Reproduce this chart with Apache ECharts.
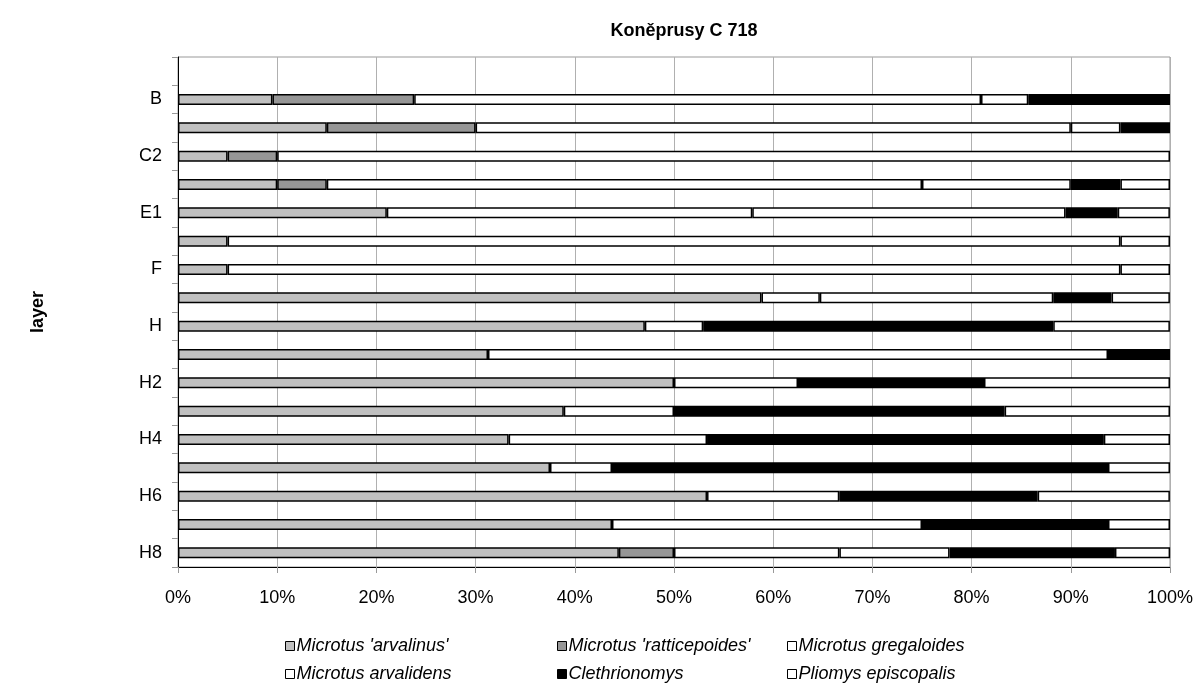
<!DOCTYPE html>
<html>
<head>
<meta charset="utf-8">
<title>Koněprusy C 718</title>
<script src="https://cdn.jsdelivr.net/npm/echarts@6/dist/echarts.min.js"></script>
<style>
  html, body { margin: 0; padding: 0; background: #fff; }
  #echarts { width: 1199px; height: 692px; }
</style>
</head>
<body>
<div id="echarts"></div>
<script>
// layers, top to bottom (first slot is empty in the original chart)
const layers = ['', 'B', 'C1', 'C2', 'D', 'E1', 'E2', 'F', 'G', 'H', 'H1', 'H2', 'H3', 'H4', 'H5', 'H6', 'H7', 'H8'];

// shares in % per layer, same order as layers
const arvalinus     = [null, 9.52, 15, 5, 10, 21.05, 5, 5, 58.82, 47.06, 31.25, 50, 38.89, 33.33, 37.5, 53.33, 43.75, 44.44];
const ratticepoides = [null, 14.29, 15, 5, 5, 0, 0, 0, 0, 0, 0, 0, 0, 0, 0, 0, 0, 5.56];
const gregaloides   = [null, 57.14, 60, 90, 60, 36.84, 90, 90, 5.88, 5.88, 62.5, 12.5, 11.11, 20, 6.25, 13.33, 31.25, 16.67];
const arvalidens    = [null, 4.76, 5, 0, 15, 31.58, 0, 0, 23.53, 0, 0, 0, 0, 0, 0, 0, 0, 11.11];
const clethrionomys = [null, 14.29, 5, 0, 5, 5.26, 0, 0, 5.88, 35.29, 6.25, 18.75, 33.33, 40, 50, 20, 18.75, 16.67];
const pliomys       = [null, 0, 0, 0, 5, 5.26, 5, 5, 5.88, 11.76, 0, 18.75, 16.67, 6.67, 6.25, 13.33, 6.25, 5.56];

const xTicks = [0, 10, 20, 30, 40, 50, 60, 70, 80, 90, 100];

const species = [
  {name: "Microtus 'arvalinus'", data: arvalinus, color: '#c0c0c0'},
  {name: "Microtus 'ratticepoides'", data: ratticepoides, color: '#969696'},
  {name: 'Microtus gregaloides', data: gregaloides, color: '#ffffff'},
  {name: 'Microtus arvalidens', data: arvalidens, color: '#ffffff'},
  {name: 'Clethrionomys', data: clethrionomys, color: '#000000'},
  {name: 'Pliomys episcopalis', data: pliomys, color: '#ffffff'}
];

// legend spots (two rows, three columns)
const legendLeft = [285, 557, 787, 285, 557, 787];
const legendTop = [637, 637, 637, 665, 665, 665];

const font = "'Liberation Sans', Arial, sans-serif";

let myChart = echarts.init(document.getElementById('echarts'));

let series = species.map(s => ({
  name: s.name,
  type: 'bar',
  stack: 'Total',
  barWidth: 11,
  itemStyle: {color: s.color, borderColor: '#000', borderWidth: 1.5},
  emphasis: {disabled: true},
  data: s.data.map(v => (v ? v : '-'))
}));

let legends = species.map((s, i) => ({
  data: [s.name],
  left: legendLeft[i],
  top: legendTop[i],
  padding: 0,
  icon: 'rect',
  itemWidth: 9,
  itemHeight: 9,
  selectedMode: false,
  itemStyle: {borderWidth: 1},
  textStyle: {fontFamily: font, fontSize: 18, fontStyle: 'italic', color: '#000', padding: [0, 0, 0, -3]}
}));

myChart.setOption({
  animation: false,
  title: {
    text: 'Koněprusy C 718',
    left: 679,
    top: 17,
    textAlign: 'center',
    textStyle: {fontFamily: font, fontSize: 18, fontWeight: 'bold', color: '#000'}
  },
  legend: legends,
  grid: {
    left: 178,
    right: 29,
    top: 57,
    bottom: 125,
    show: true,
    borderColor: '#999',
    borderWidth: 1
  },
  xAxis: {
    type: 'value',
    min: xTicks[0],
    max: xTicks[xTicks.length - 1],
    interval: 10,
    axisLine: {show: true, lineStyle: {color: '#000'}},
    axisTick: {show: true, length: 6, lineStyle: {color: '#999'}},
    splitLine: {show: true, lineStyle: {color: '#b0b0b0'}},
    axisLabel: {formatter: '{value}%', fontFamily: font, fontSize: 18, color: '#000', margin: 22}
  },
  yAxis: {
    type: 'category',
    inverse: true,
    data: layers,
    name: 'layer',
    nameLocation: 'middle',
    nameGap: 131,
    nameRotate: 90,
    nameTextStyle: {fontFamily: font, fontSize: 18, fontWeight: 'bold', color: '#000'},
    axisLine: {show: true, lineStyle: {color: '#000'}},
    axisTick: {show: true, length: 6, interval: 0, lineStyle: {color: '#999'}},
    axisLabel: {
      interval: (index) => index % 2 === 1,
      fontFamily: font,
      fontSize: 18,
      color: '#000',
      margin: 16
    }
  },
  series: series
});
</script>
</body>
</html>
